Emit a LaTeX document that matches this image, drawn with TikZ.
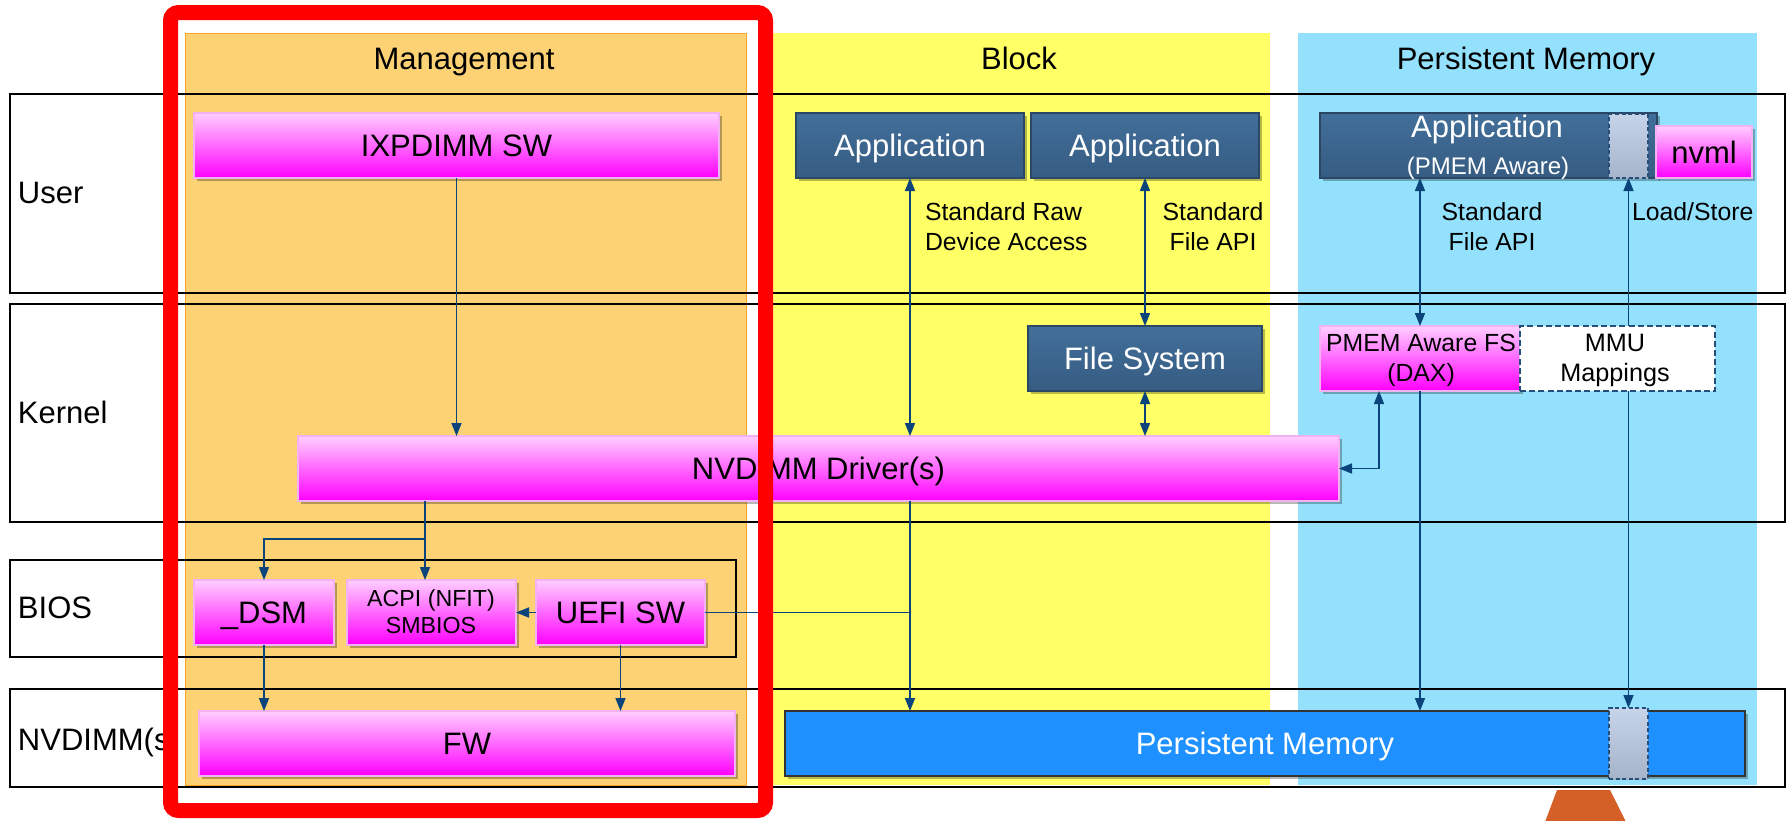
\documentclass[tikz,border=0pt]{standalone}
\usepackage{fontspec}
\setmainfont{Liberation Sans}
\usetikzlibrary{arrows.meta,shadows,calc}
\definecolor{mgmtfill}{RGB}{252,210,117}
\definecolor{mgmtedge}{RGB}{245,166,35}
\definecolor{blkfill}{RGB}{255,255,102}
\definecolor{pmfill}{RGB}{147,225,253}
\definecolor{magtop}{RGB}{255,206,255}
\definecolor{magbot}{RGB}{255,0,255}
\definecolor{magedge}{RGB}{242,178,242}
\definecolor{apptop}{RGB}{66,111,154}
\definecolor{appbot}{RGB}{54,92,130}
\definecolor{appedge}{RGB}{42,72,102}
\definecolor{pmbox}{RGB}{30,144,255}
\definecolor{grtop}{RGB}{198,211,233}
\definecolor{grbot}{RGB}{166,180,202}
\definecolor{dashedge}{RGB}{38,78,122}
\definecolor{conncol}{RGB}{10,68,122}
\definecolor{trapcol}{RGB}{212,95,39}
\begin{document}
\begin{tikzpicture}[x=0.5pt,y=-0.5pt,
  >={Triangle[length=6.5pt,width=5pt]},
  rect/.style n args={4}{at={({(#1+#3)/2},{(#2+#4)/2})},minimum width={(#3-#1)*0.5pt},minimum height={(#4-#2)*0.5pt}},
  fbig/.style={font=\fontsize{15.5}{18.6}\selectfont},
  fsmall/.style={font=\fontsize{12.4}{15}\selectfont},
  shadowed/.style={drop shadow={shadow xshift=1.3pt,shadow yshift=-1.6pt,opacity=0.28,fill=black}},
  panel/.style={inner sep=0pt,outer sep=0pt},
  rowbox/.style={draw=black,line width=1.1pt,inner sep=0pt,outer sep=0pt},
  box/.style={inner sep=0pt,outer sep=0pt,fbig,text height=11.1pt,text depth=0pt},
  magbox/.style={box,draw=magedge,line width=0.6pt,top color=magtop,bottom color=magbot,shadowed},
  darkbox/.style={box,draw=appedge,line width=0.6pt,top color=apptop,bottom color=appbot,text=white,shadowed},
  graybox/.style={inner sep=0pt,outer sep=0pt,draw=dashedge,dash pattern=on 2pt off 1.3pt,line width=0.8pt,top color=grtop,bottom color=grbot},
  txt/.style={inner sep=0pt,outer sep=0pt},
  caplabel/.style={txt,fbig,text height=11.1pt,text depth=0pt},
  cn/.style={draw=conncol,line width=0.8pt}]
\useasboundingbox (0,0) rectangle (1788,820);

% column panels
\node[panel,fill=mgmtfill,draw=mgmtedge,line width=0.5pt,rect={185}{33}{746}{785}] (pmgmt) {};
\node[panel,fill=blkfill,rect={762}{33}{1270}{785}] (pblock) {};
\node[panel,fill=pmfill,rect={1298}{33}{1757}{785}] (ppmem) {};
\node[caplabel] (tmgmt) at (464,58) {Management};
\node[caplabel] (tblock) at (1019,58) {Block};
\node[caplabel] (tpmem) at (1526,58) {Persistent Memory};

% rows
\node[rowbox,rect={10}{94}{1785}{293}] (ruser) {};
\node[rowbox,rect={10}{304}{1785}{522}] (rkernel) {};
\node[rowbox,rect={10}{560}{736}{657}] (rbios) {};
\node[rowbox,rect={10}{689}{1785}{787}] (rnvdimm) {};
\node[caplabel,anchor=west] (luser) at (18,192) {User};
\node[caplabel,anchor=west] (lkernel) at (18,412) {Kernel};
\node[caplabel,anchor=west] (lbios) at (18,607) {BIOS};
\node[caplabel,anchor=west] (lnvdimm) at (18,739) {NVDIMM(s)};

% boxes
\node[magbox,rect={194}{113}{719}{178}] (ixp) {IXPDIMM SW};
\node[darkbox,rect={796}{113}{1024}{178}] (app1) {Application};
\node[darkbox,rect={1031}{113}{1259}{178}] (app2) {Application};
\node[darkbox,rect={1320}{113}{1657}{178}] (pmapp) {};
\node[txt,fbig,text=white,anchor=base] (pmapptxt) at (1487,137.5) {Application};
\node[txt,font=\fontsize{12}{14}\selectfont,text=white,anchor=base] (pmapptxtb) at (1488,174.6) {(PMEM Aware)};
\node[graybox,rect={1609}{114}{1648}{178}] (gapp) {};
\node[magbox,rect={1656}{126}{1752}{178}] (nvml) {nvml};

\node[darkbox,rect={1028}{326}{1262}{391}] (fs) {File System};
\node[magbox,rect={1320}{326}{1520}{391}] (pmfs) {};
\node[txt,fsmall,align=center,anchor=base] (pmfstxt) at (1421,381) {PMEM Aware FS\\(DAX)};
\node[inner sep=0pt,outer sep=0pt,fill=white,draw=dashedge,dash pattern=on 3pt off 1.6pt,line width=0.8pt,rect={1520}{326}{1715}{391}] (mmu) {};
\node[txt,font=\fontsize{12.6}{15}\selectfont,align=center,anchor=base] (mmutxt) at (1615,381) {MMU\\Mappings};

\node[magbox,rect={298}{436}{1339}{501}] (drv) {NVDIMM Driver(s)};

\node[magbox,rect={194}{580}{334}{645}] (dsm) {\_DSM};
\node[magbox,rect={347}{580}{516}{645}] (acpi) {};
\node[txt,font=\fontsize{11.6}{13.5}\selectfont,align=center,anchor=base] (acpitxt) at (431,633.5) {ACPI (NFIT)\\SMBIOS};
\node[magbox,rect={536}{580}{705}{645}] (uefi) {UEFI SW};

\node[magbox,rect={199}{711}{735}{776}] (fw) {FW};
\node[box,fill=pmbox,draw=black!80,line width=0.8pt,text=white,shadowed,rect={785}{711}{1745}{776}] (pm) {Persistent Memory};
\node[graybox,rect={1609}{708}{1648}{779}] (gpm) {};

% edge labels
\node[txt,fsmall,align=left,anchor=base west] (lraw) at (925,250) {Standard Raw\\Device Access};
\node[txt,fsmall,align=center,anchor=base] (lfile1) at (1213,250) {Standard\\File API};
\node[txt,fsmall,align=center,anchor=base] (lfile2) at (1492,250) {Standard\\File API};
\node[txt,fsmall,anchor=base west] (lls) at (1632,220) {Load/Store};

% connectors
\draw[cn,->] (ixp.south) -- (ixp.south |- drv.north);
\draw[cn,<->] (app1.south) -- (app1.south |- drv.north);
\draw[cn,<->] (app2.south) -- (fs.north);
\draw[cn,<->] (fs.south) -- (fs.south |- drv.north);
\draw[cn,<->] (pmfs.north |- pmapp.south) -- (pmfs.north);
\draw[cn,<->] ($(pmfs.south west)!0.295!(pmfs.south east)$) |- (drv.east);
\draw[cn,->] (pmfs.south) -- (pmfs.south |- pm.north);
\draw[cn,<-] (gapp.south) -- (gapp.south |- mmu.north);
\draw[cn,->] (gapp.south |- mmu.south) -- (gpm.north);
\coordinate (br) at (425,539);
\draw[cn] (br |- drv.south) -- (br);
\draw[cn,->] (br) -- (br |- acpi.north);
\draw[cn,->] (br) -| (dsm.north);
\draw[cn,->] (uefi.west) -- (acpi.east);
\draw[cn] (uefi.east) -- (uefi.east -| app1.south);
\draw[cn,->] (app1.south |- drv.south) -- (app1.south |- pm.north);
\draw[cn,->] (dsm.south) -- (dsm.south |- fw.north);
\draw[cn,->] (uefi.south) -- (uefi.south |- fw.north);

% highlight frame and bottom shape
\draw[red,line width=7.5pt,rounded corners=4pt] (170.5,12.5) rectangle (765.5,810.5);
\fill[trapcol] (1557,790) -- (1610,790) -- (1626,822) -- (1545,822) -- cycle;
\end{tikzpicture}
\end{document}
